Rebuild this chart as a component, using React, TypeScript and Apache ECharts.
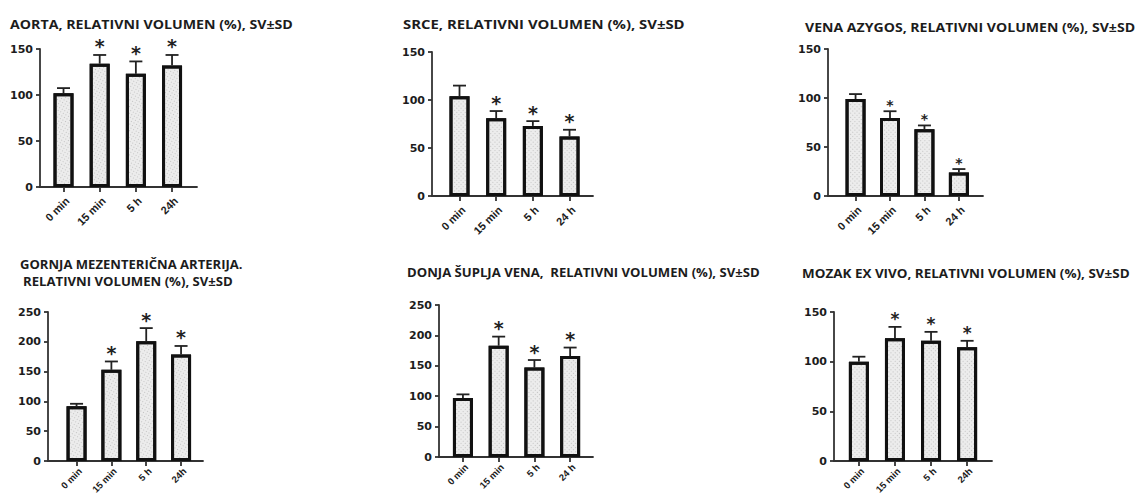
import React, { useEffect, useRef } from "react";
import * as echarts from "echarts";

// Time points on the x axes
const catsA = ["0 min", "15 min", "5 h", "24h"];
const catsB = ["0 min", "15 min", "5 h", "24 h"];

// Relative volume (%) – mean and SD per time point
const aortaMean = [102, 134, 123, 132];
const aortaSd = [5.5, 9.5, 13.5, 11.5];
const aortaSig = ["", "*", "*", "*"];

const srceMean = [104, 81, 73, 62];
const srceSd = [11, 7.5, 5, 7];
const srceSig = ["", "*", "*", "*"];

const azygosMean = [99, 79.5, 68, 24];
const azygosSd = [5, 7, 4, 3.5];
const azygosSig = ["", "*", "*", "*"];

const mezentMean = [92, 153, 201, 178.5];
const mezentSd = [4, 14, 22, 14.5];
const mezentSig = ["", "*", "*", "*"];

const donjaMean = [97, 183, 147, 166];
const donjaSd = [6, 15, 12.5, 14];
const donjaSig = ["", "*", "*", "*"];

const mozakMean = [100, 123.5, 121, 114.5];
const mozakSd = [5, 11.5, 9, 6.5];
const mozakSig = ["", "*", "*", "*"];

// Panel titles
const titleAorta = ["AORTA, RELATIVNI VOLUMEN (%), SV±SD"];
const titleSrce = ["SRCE, RELATIVNI VOLUMEN (%), SV±SD"];
const titleAzygos = ["VENA AZYGOS, RELATIVNI VOLUMEN (%), SV±SD"];
const titleMezent = ["GORNJA MEZENTERIČNA ARTERIJA.", "RELATIVNI VOLUMEN (%), SV±SD"];
const titleDonja = ["DONJA ŠUPLJA VENA,  RELATIVNI VOLUMEN (%), SV±SD"];
const titleMozak = ["MOZAK EX VIVO, RELATIVNI VOLUMEN (%), SV±SD"];

// Y axis maxima
const yMaxSmall = 150;
const yMaxLarge = 250;
const yStep = 50;

const TITLE_FONT = 'bold 13px "Open Sans"';
const AXIS_COLOR = "#333";
const INK = "#1c1c1c";

type Panel = {
  title: string[];
  cats: string[];
  mean: number[];
  sd: number[];
  sig: string[];
  yMax: number;
  grid: { left: number; top: number; width: number; height: number };
  xMin: number;
  xMax: number;
  titleLines: { x: number; y: number; w: number }[];
  star: number;
  xLabel: { size: number; margin: number };
};

const topLabel = { size: 11, margin: 8 };
const bottomLabel = { size: 9.5, margin: 5 };

const panels: Panel[] = [
  {
    title: titleAorta, cats: catsA, mean: aortaMean, sd: aortaSd, sig: aortaSig, yMax: yMaxSmall,
    grid: { left: 40, top: 49, width: 157, height: 138 }, xMin: -0.65, xMax: 3.69,
    titleLines: [{ x: 10, y: 24, w: 283 }], star: 19, xLabel: topLabel,
  },
  {
    title: titleSrce, cats: catsB, mean: srceMean, sd: srceSd, sig: srceSig, yMax: yMaxSmall,
    grid: { left: 432, top: 52, width: 161, height: 144 }, xMin: -0.75, xMax: 3.64,
    titleLines: [{ x: 403, y: 24, w: 282 }], star: 19, xLabel: topLabel,
  },
  {
    title: titleAzygos, cats: catsB, mean: azygosMean, sd: azygosSd, sig: azygosSig, yMax: yMaxSmall,
    grid: { left: 828, top: 49, width: 155, height: 147 }, xMin: -0.8, xMax: 3.7,
    titleLines: [{ x: 805, y: 27, w: 330 }], star: 14, xLabel: topLabel,
  },
  {
    title: titleMezent, cats: catsA, mean: mezentMean, sd: mezentSd, sig: mezentSig, yMax: yMaxLarge,
    grid: { left: 48, top: 312, width: 155, height: 149 }, xMin: -0.82, xMax: 3.63,
    titleLines: [{ x: 20, y: 264, w: 223 }, { x: 23, y: 281, w: 210 }], star: 19, xLabel: bottomLabel,
  },
  {
    title: titleDonja, cats: catsB, mean: donjaMean, sd: donjaSd, sig: donjaSig, yMax: yMaxLarge,
    grid: { left: 439, top: 305, width: 154, height: 152 }, xMin: -0.67, xMax: 3.64,
    titleLines: [{ x: 407, y: 272, w: 353 }], star: 19, xLabel: bottomLabel,
  },
  {
    title: titleMozak, cats: catsA, mean: mozakMean, sd: mozakSd, sig: mozakSig, yMax: yMaxSmall,
    grid: { left: 834, top: 312, width: 158, height: 149 }, xMin: -0.69, xMax: 3.69,
    titleLines: [{ x: 802, y: 273, w: 328 }], star: 17, xLabel: bottomLabel,
  },
];

function textWidth(text: string, font: string): number {
  const ctx = document.createElement("canvas").getContext("2d");
  if (!ctx) return text.length * 8;
  ctx.font = font;
  return ctx.measureText(text).width;
}

function buildOption() {
  const ticks = [0, 1, 2, 3];
  const grid: any[] = [];
  const xAxis: any[] = [];
  const yAxis: any[] = [];
  const series: any[] = [];
  const graphic: any[] = [];

  panels.forEach((p, i) => {
    grid.push({ ...p.grid, containLabel: false, outerBoundsMode: "none" });

    xAxis.push({
      type: "value",
      gridIndex: i,
      min: p.xMin,
      max: p.xMax,
      splitLine: { show: false },
      axisLine: { show: true, onZero: false, lineStyle: { color: AXIS_COLOR, width: 1.8 } },
      axisTick: { show: true, customValues: ticks, length: 5, lineStyle: { color: AXIS_COLOR, width: 1.8 } },
      axisLabel: {
        customValues: ticks,
        formatter: (v: number) => p.cats[Math.round(v)] ?? "",
        rotate: 45,
        align: "right",
        verticalAlign: "top",
        margin: p.xLabel.margin,
        fontFamily: "Liberation Sans",
        fontWeight: "bold",
        fontSize: p.xLabel.size,
        color: INK,
      },
    });

    yAxis.push({
      type: "value",
      gridIndex: i,
      min: 0,
      max: p.yMax,
      interval: yStep,
      splitLine: { show: false },
      axisLine: { show: true, onZero: false, lineStyle: { color: AXIS_COLOR, width: 1.8 } },
      axisTick: { show: true, length: 4, lineStyle: { color: AXIS_COLOR, width: 1.8 } },
      axisLabel: {
        margin: 7,
        fontFamily: "DejaVu Sans",
        fontWeight: "bold",
        fontSize: 11,
        color: INK,
      },
    });

    series.push({
      type: "bar",
      xAxisIndex: i,
      yAxisIndex: i,
      barWidth: 20,
      data: p.mean.map((m, k) => [k, m]),
      itemStyle: {
        color: "#ececec",
        borderColor: "#111",
        borderWidth: 3,
        decal: {
          symbol: "rect",
          symbolSize: 1,
          dashArrayX: [1, 2],
          dashArrayY: [1, 2],
          color: "rgba(120,120,120,0.35)",
        },
      },
      z: 2,
    });

    series.push({
      type: "custom",
      xAxisIndex: i,
      yAxisIndex: i,
      z: 3,
      data: p.mean.map((m, k) => [k, m, m + p.sd[k]]),
      encode: { x: 0, y: [1, 2] },
      renderItem: (params: any, api: any) => {
        const x = api.value(0);
        const lo = api.coord([x, api.value(1)]);
        const hi = api.coord([x, api.value(2)]);
        const stroke = { stroke: "#222", lineWidth: 1.8 };
        const children: any[] = [
          { type: "line", shape: { x1: lo[0], y1: lo[1], x2: hi[0], y2: hi[1] }, style: stroke },
          { type: "line", shape: { x1: hi[0] - 6.5, y1: hi[1], x2: hi[0] + 6.5, y2: hi[1] }, style: stroke },
        ];
        const mark = p.sig[params.dataIndex];
        if (mark) {
          children.push({
            type: "text",
            x: hi[0],
            y: hi[1] + 1,
            style: {
              text: mark,
              font: `bold ${p.star}px "DejaVu Sans"`,
              fill: "#222",
              textAlign: "center",
              textVerticalAlign: "bottom",
            },
          });
        }
        return { type: "group", children };
      },
    });

    p.title.forEach((line, li) => {
      const spec = p.titleLines[li];
      const natural = textWidth(line, TITLE_FONT);
      graphic.push({
        type: "text",
        x: spec.x,
        y: spec.y,
        scaleX: spec.w / natural,
        style: {
          text: line,
          font: TITLE_FONT,
          fill: INK,
          textAlign: "left",
          textVerticalAlign: "middle",
        },
      });
    });
  });

  return {
    animation: false,
    backgroundColor: "#fff",
    aria: { enabled: true, decal: { show: true } },
    grid,
    xAxis,
    yAxis,
    series,
    graphic,
  };
}

export default function App() {
  const ref = useRef<HTMLDivElement>(null);

  useEffect(() => {
    if (!ref.current) return;
    const chart = echarts.init(ref.current, undefined, { renderer: "svg" });
    chart.setOption(buildOption());
    return () => chart.dispose();
  }, []);

  return (
    <div
      ref={ref}
      style={{ position: "fixed", left: 0, top: 0, width: 1136, height: 497, background: "#fff" }}
    />
  );
}
